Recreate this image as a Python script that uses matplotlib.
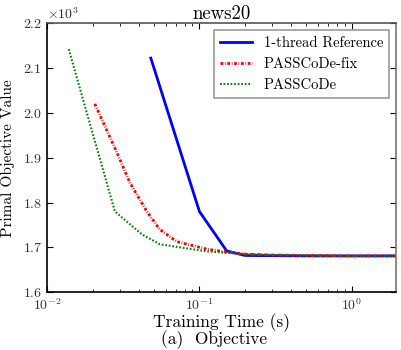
import matplotlib
matplotlib.use('Agg')
import matplotlib.pyplot as plt
from matplotlib.ticker import ScalarFormatter, LogLocator

plt.rc('font', family='cmr10')
plt.rc('mathtext', fontset='cm')
plt.rc('axes', unicode_minus=False)
plt.rcParams['axes.formatter.use_mathtext'] = True

# 1-thread reference
ref_t = [0.048, 0.100, 0.151, 0.199, 0.5, 1.0, 2.0]
ref_obj = [2122, 1780, 1692, 1682, 1681, 1681, 1681]

# PASSCoDe-fix
fix_t = [0.0206, 0.029, 0.035, 0.0452, 0.055, 0.071, 0.112, 0.15, 0.2, 0.3, 0.5, 1.0, 2.0]
fix_obj = [2020, 1909, 1844, 1780, 1740, 1713, 1696, 1690, 1685, 1683, 1682, 1681, 1681]

# PASSCoDe
pc_t = [0.0139, 0.0279, 0.042, 0.055, 0.112, 0.15, 0.2, 0.3, 0.5, 1.0, 2.0]
pc_obj = [2142, 1780, 1729, 1707, 1691, 1688, 1685, 1683, 1682, 1681, 1681]

fig = plt.figure(figsize=(4.01, 3.5), dpi=100)
ax = fig.add_axes([0.117, 0.165, 0.871, 0.769])

ax.plot(ref_t, ref_obj, '-', color='b', lw=2, label='1-thread Reference')
ax.plot(fix_t, fix_obj, color='r', lw=2, dashes=(1, 0.6, 0.25, 0.6), label='PASSCoDe-fix')
ax.plot(pc_t, pc_obj, color='g', lw=1.5, dashes=(0.8, 0.9), label='PASSCoDe')

ax.set_xscale('log')
ax.set_xlim(0.01, 1.95)
ax.set_ylim(1600, 2200)
ax.set_yticks([1600, 1700, 1800, 1900, 2000, 2100, 2200])

fmt = ScalarFormatter(useMathText=True)
fmt.set_powerlimits((0, 0))
ax.yaxis.set_major_formatter(fmt)

ax.xaxis.set_major_locator(LogLocator(base=10))
ax.xaxis.set_minor_locator(LogLocator(base=10, subs=range(2, 10)))

ax.tick_params(which='both', direction='in', top=True, right=True, labelsize=10, labelcolor='#333333')
ax.tick_params(which='major', length=4)
ax.tick_params(which='minor', length=2)
for s in ax.spines.values():
    s.set_linewidth(1.2)
ax.spines['right'].set_color('#777777')
ax.spines['top'].set_color('#555555')

ax.set_title('news20', fontsize=13.5, pad=2)
ax.set_ylabel('Primal Objective Value', fontsize=11)
ax.yaxis.set_label_coords(-0.092, 0.5)
ax.set_xlabel('Training Time (s)', fontsize=12.5, labelpad=0)
fig.text(0.535, 0.002, '(a)  Objective', fontsize=12.5, ha='center', va='bottom')

leg = ax.legend(loc='upper right', fontsize=10.5, fancybox=False, framealpha=1,
                edgecolor='#999999', handlelength=2.2, borderaxespad=0.5)
leg.get_frame().set_linewidth(1.2)

plt.savefig('out.png', dpi=100)
